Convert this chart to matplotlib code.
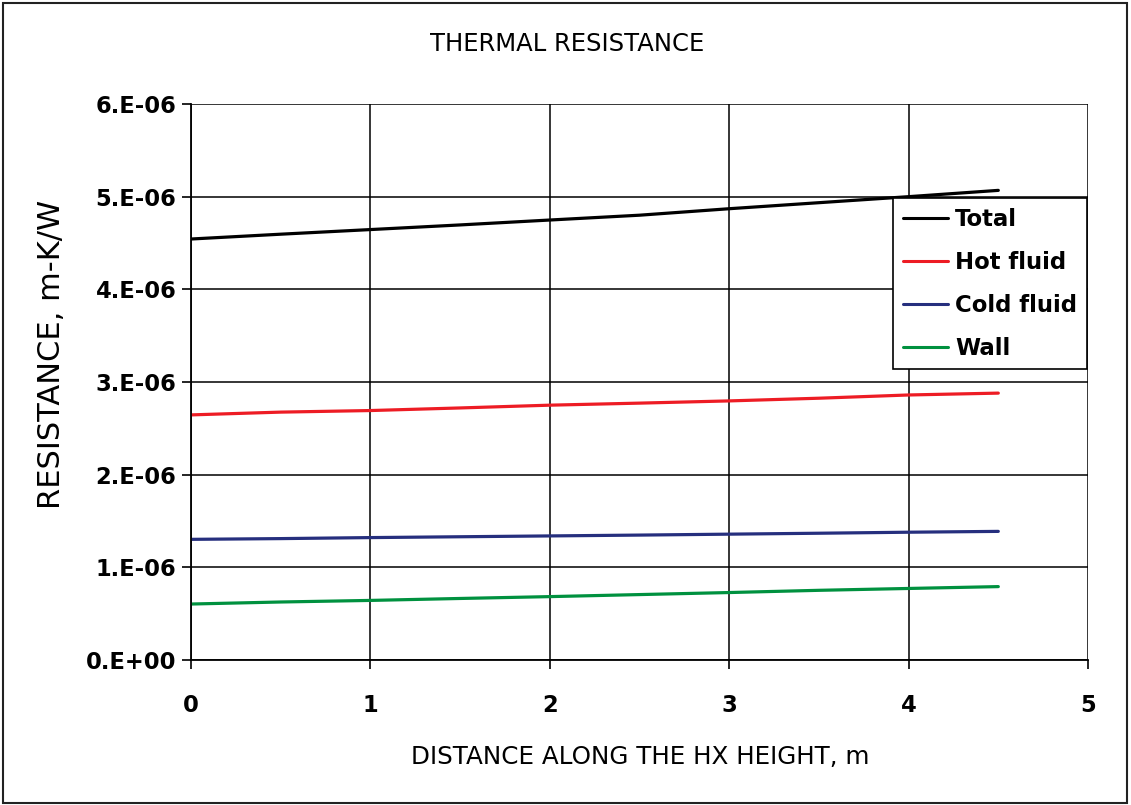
import matplotlib
matplotlib.use("Agg")
import matplotlib.pyplot as plt
from matplotlib.patches import Rectangle

# ---- data ----
distance = [0.0, 0.5, 1.0, 1.5, 2.0, 2.5, 3.0, 3.5, 4.0, 4.5]
total = [4.543e-6, 4.595e-6, 4.645e-6, 4.695e-6, 4.748e-6, 4.800e-6, 4.870e-6, 4.935e-6, 5.000e-6, 5.068e-6]
hot_fluid = [2.645e-6, 2.675e-6, 2.692e-6, 2.720e-6, 2.750e-6, 2.772e-6, 2.796e-6, 2.825e-6, 2.860e-6, 2.880e-6]
cold_fluid = [1.302e-6, 1.310e-6, 1.321e-6, 1.330e-6, 1.339e-6, 1.348e-6, 1.358e-6, 1.368e-6, 1.379e-6, 1.388e-6]
wall = [0.604e-6, 0.626e-6, 0.643e-6, 0.664e-6, 0.684e-6, 0.706e-6, 0.728e-6, 0.752e-6, 0.772e-6, 0.792e-6]

series_names = ["Total", "Hot fluid", "Cold fluid", "Wall"]
series_colors = ["#000000", "#ED1C24", "#262F7E", "#00913F"]

x_ticks = [0, 1, 2, 3, 4, 5]
y_ticks = [0, 1e-6, 2e-6, 3e-6, 4e-6, 5e-6, 6e-6]
y_tick_labels = ["0.E+00", "1.E-06", "2.E-06", "3.E-06", "4.E-06", "5.E-06", "6.E-06"]

W, H = 1131, 805
fig = plt.figure(figsize=(W / 100, H / 100), dpi=100)
plt.rcParams['font.family'] = ['DejaVu Sans']

# outer border
fig.patches.append(Rectangle((3 / W, 2 / H), (W - 7) / W, (H - 5) / H,
                             transform=fig.transFigure, fill=False,
                             edgecolor="#222222", linewidth=1.5))

ax = fig.add_axes([191 / W, 1 - 660 / H, (1088 - 191) / W, (660 - 104) / H])

for vals, name, col in zip([total, hot_fluid, cold_fluid, wall], series_names, series_colors):
    ax.plot(distance, vals, color=col, linewidth=2.3, label=name, solid_capstyle='round')

ax.set_xlim(0, 5)
ax.set_ylim(0, 6e-6)
ax.set_xticks(x_ticks)
ax.set_xticklabels([str(t) for t in x_ticks], fontsize=16.3, fontweight='bold')
ax.set_yticks(y_ticks)
ax.set_yticklabels(y_tick_labels, fontsize=16.3, fontweight='bold')
ax.tick_params(direction='out', length=6.5, width=1.2, color='black')
ax.tick_params(axis='y', pad=4)
ax.tick_params(axis='x', pad=18)

ax.grid(True, color='black', linewidth=1.1)
ax.set_axisbelow(True)
for s in ['top', 'right']:
    ax.spines[s].set_visible(False)
for s in ['left', 'bottom']:
    ax.spines[s].set_linewidth(1.3)

fig.text(567.5 / W, 1 - 44 / H, "THERMAL RESISTANCE", fontsize=17.5,
         ha='center', va='center')
fig.text(640 / W, 1 - 757 / H, "DISTANCE ALONG THE HX HEIGHT, m", fontsize=17.7,
         ha='center', va='center')
fig.text(52 / W, 1 - 354 / H, "RESISTANCE, m-K/W", fontsize=22,
         ha='center', va='center', rotation=90)

leg = ax.legend(loc='upper left', bbox_to_anchor=(893 / W, 1 - 198 / H),
                bbox_transform=fig.transFigure, borderaxespad=0,
                prop={'size': 16.4, 'weight': 'bold'}, fancybox=False,
                edgecolor='black', framealpha=1, handlelength=2.0,
                handletextpad=0.3, labelspacing=0.88, borderpad=0.42)
leg.get_frame().set_linewidth(1.2)
for line in leg.get_lines():
    line.set_linewidth(2.2)

fig.savefig("out.png", dpi=100)
